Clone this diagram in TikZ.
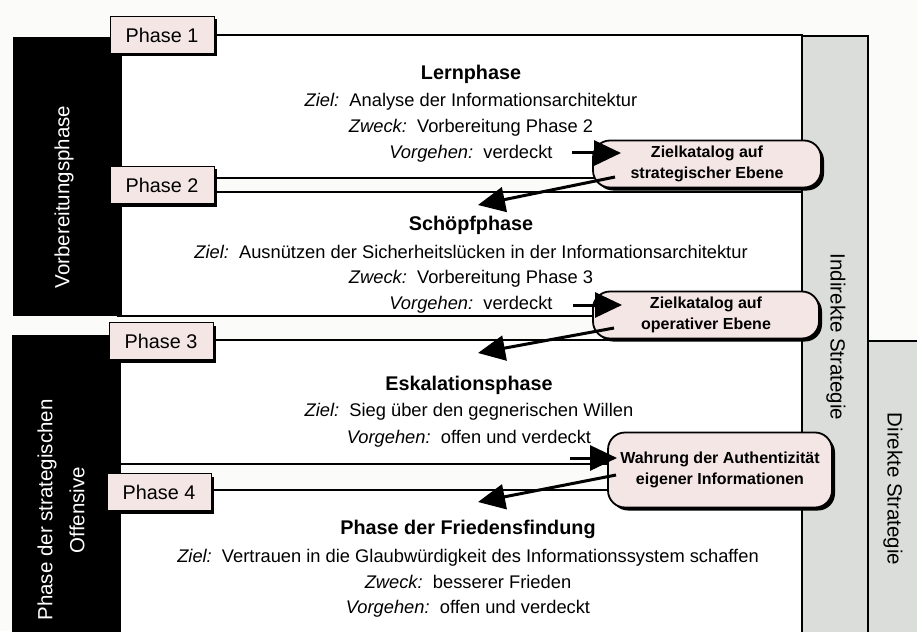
\documentclass[tikz,border=0pt]{standalone}
\usepackage{fontspec}
\setmainfont{Liberation Sans}
\usetikzlibrary{shadows,arrows.meta}
\definecolor{bgc}{HTML}{FBFBF9}
\definecolor{pinkf}{HTML}{F4E6E4}
\definecolor{grayf}{HTML}{DADDD9}
\tikzset{
  region/.style={draw=black, line width=1.4pt, fill=white},
  blackbar/.style={fill=black},
  graybar/.style={fill=grayf, draw=black, line width=2.6pt},
  phasebox/.style={draw=black, line width=0.9pt, fill=pinkf, minimum width=104pt, minimum height=37pt,
    inner sep=0pt, font=\fontsize{19.8}{22}\selectfont,
    drop shadow={shadow xshift=3pt, shadow yshift=-3pt, fill=black, opacity=1}},
  goalbox/.style={draw=black, line width=1.8pt, fill=pinkf, align=center, inner sep=0pt,
    font=\bfseries\fontsize{16}{21}\selectfont,
    drop shadow={shadow xshift=3pt, shadow yshift=-3pt, fill=black, opacity=1}},
  body/.style={anchor=base, font=\fontsize{18.3}{20}\selectfont},
  ttl/.style={anchor=base, font=\bfseries\fontsize{19.8}{22}\selectfont},
  side/.style={font=\fontsize{20.5}{32}\selectfont, align=center},
  bigarrow/.style={line width=3pt, -{Triangle[length=27pt,width=25pt]}},
}
\begin{document}
\begin{tikzpicture}[x=1pt,y=-1pt]
\fill[bgc] (0,0) rectangle (917,631);
\useasboundingbox (0,0) rectangle (917,631);
\clip (0,0) rectangle (917,631);
% regions
\draw[region] (118,35) rectangle (802,178);
\draw[region] (118,192) rectangle (802,316);
\draw[region] (118,340) rectangle (802,464);
\draw[region] (118,490) rectangle (802,660);
% black bars
\fill[blackbar] (13,37) rectangle (122,316);
\fill[blackbar] (12,335) rectangle (121,660);
% gray bars
\draw[graybar] (802,36) rectangle (868,660);
\draw[graybar] (868,341) rectangle (940,660);
% phase boxes
\node[phasebox] (p1) at (162,35) {Phase 1};
\node[phasebox] (p2) at (162,185) {Phase 2};
\node[phasebox] (p3) at (161,341) {Phase 3};
\node[phasebox] (p4) at (159,492) {Phase 4};
% texts phase 1
\node[ttl]  (t1) at (471,80) {Lernphase};
\node[body] (z1) at (471,107) {\textit{Ziel:}\ \ Analyse der Informationsarchitektur};
\node[body] (w1) at (471,133) {\textit{Zweck:}\ \ Vorbereitung Phase 2};
\node[body] (v1) at (471,159) {\textit{Vorgehen:}\ \ verdeckt};
% phase 2
\node[ttl]  (t2) at (471,230) {Schöpfphase};
\node[body] (z2) at (471,258) {\textit{Ziel:}\ \ Ausnützen der Sicherheitslücken in der Informationsarchitektur};
\node[body] (w2) at (471,283) {\textit{Zweck:}\ \ Vorbereitung Phase 3};
\node[body] (v2) at (471,309) {\textit{Vorgehen:}\ \ verdeckt};
% phase 3
\node[ttl]  (t3) at (469,390) {Eskalationsphase};
\node[body] (z3) at (469,416) {\textit{Ziel:}\ \ Sieg über den gegnerischen Willen};
\node[body] (v3) at (469,443) {\textit{Vorgehen:}\ \ offen und verdeckt};
% phase 4
\node[ttl]  (t4) at (468,534) {Phase der Friedensfindung};
\node[body] (z4) at (468,562) {\textit{Ziel:}\ \ Vertrauen in die Glaubwürdigkeit des Informationssystem schaffen};
\node[body] (w4) at (468,588) {\textit{Zweck:}\ \ besserer Frieden};
\node[body] (v4) at (468,613) {\textit{Vorgehen:}\ \ offen und verdeckt};
% goal boxes
\node[goalbox, minimum width=228pt, minimum height=47pt, rounded corners=17pt] (o1) at (707,164)
  {Zielkatalog auf\\strategischer Ebene};
\node[goalbox, minimum width=226pt, minimum height=47pt, rounded corners=17pt] (o2) at (706,315)
  {Zielkatalog auf\\operativer Ebene};
\node[goalbox, minimum width=224pt, minimum height=75pt, rounded corners=17pt] (o3) at (720,470)
  {Wahrung der Authentizität\\eigener Informationen};
% arrows
\coordinate (a1s) at (572,153); \coordinate (a1t) at (621,153);
\coordinate (b1s) at (615,177); \coordinate (b1t) at (478,205);
\coordinate (a2s) at (573,305); \coordinate (a2t) at (622,305);
\coordinate (b2s) at (614,328); \coordinate (b2t) at (478,353);
\coordinate (a3s) at (570,458); \coordinate (a3t) at (617,458);
\coordinate (b3s) at (616,475); \coordinate (b3t) at (478,502);
\draw[bigarrow] (a1s) -- (a1t);
\draw[bigarrow] (b1s) -- (b1t);
\draw[bigarrow] (a2s) -- (a2t);
\draw[bigarrow] (b2s) -- (b2t);
\draw[bigarrow] (a3s) -- (a3t);
\draw[bigarrow] (b3s) -- (b3t);
% side labels
\node[side, text=white, rotate=90] (s1) at (64,197) {Vorbereitungsphase};
\node[side, text=white, rotate=90] (s2) at (61,510) {Phase der strategischen\\Offensive};
\node[side, rotate=-90] (s3) at (836,337) {Indirekte Strategie};
\node[side, rotate=-90] (s4) at (893,489) {Direkte Strategie};
\end{tikzpicture}
\end{document}
